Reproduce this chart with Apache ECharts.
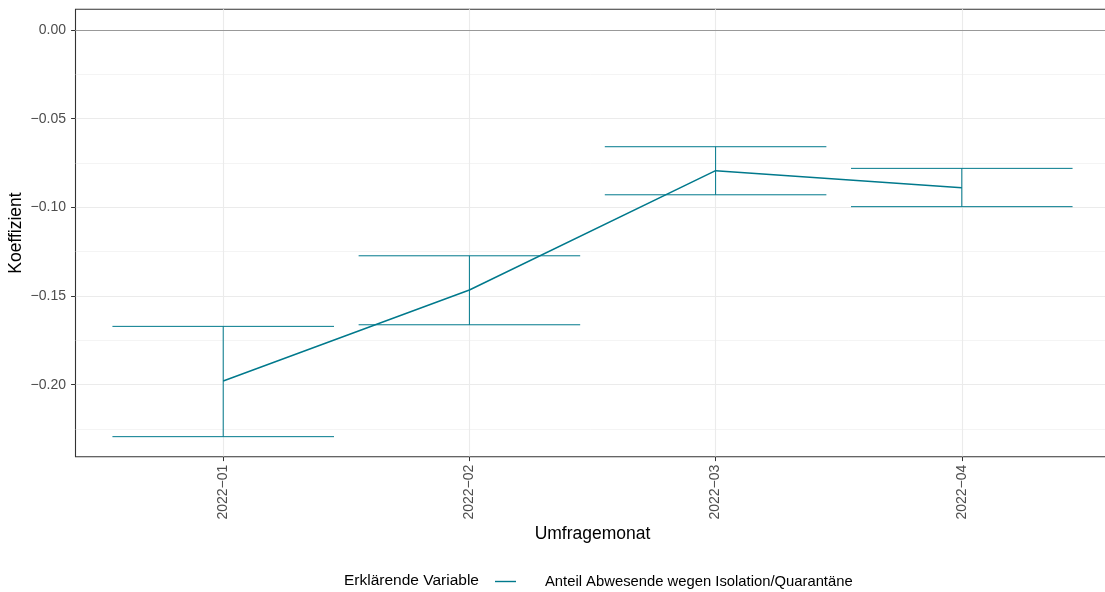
<!DOCTYPE html>
<html>
<head>
<meta charset="utf-8">
<script src="https://cdn.jsdelivr.net/npm/echarts@6/dist/echarts.min.js"></script>
<style>
  html, body { margin: 0; padding: 0; background: #ffffff; }
  #chart { width: 1105px; height: 592px; }
</style>
</head>
<body>
<div id="chart"></div>
<script>
// Survey months (x categories)
const categories = ['2022−01', '2022−02', '2022−03', '2022−04'];
// Estimated coefficient per month
const coefficient = [-0.1979, -0.1466, -0.0793, -0.0889];
// Lower / upper confidence bounds
const ciLower = [-0.2293, -0.1662, -0.0929, -0.0996];
const ciUpper = [-0.1671, -0.1273, -0.0658, -0.0780];
// Y axis tick values (major) and minor grid values
const yTicks = [-0.20, -0.15, -0.10, -0.05, 0.00];
const yMinor = [-0.225, -0.175, -0.125, -0.075, -0.025];

const seriesName = 'Anteil Abwesende wegen Isolation/Quarantäne';
const legendTitle = 'Erklärende Variable';
const FONT = '"Liberation Sans", Arial, Helvetica, sans-serif';
const TEAL = '#00798C';

const xPos = categories.map((_, i) => i + 1);
const lineData = xPos.map((x, i) => [x, coefficient[i]]);
const barData = xPos.map((x, i) => [x, ciLower[i], ciUpper[i]]);

const fmtY = v => {
  const s = Math.abs(v).toFixed(2);
  return v < -1e-9 ? '\u2212' + s : s;
};

const chart = echarts.init(document.getElementById('chart'), null, { renderer: 'canvas' });

chart.setOption({
  animation: false,
  backgroundColor: '#ffffff',
  textStyle: { fontFamily: FONT },
  title: {
    text: legendTitle,
    left: 344,
    top: 573,
    padding: 0,
    textStyle: { fontFamily: FONT, fontSize: 15.5, fontWeight: 'normal', color: '#000000' }
  },
  legend: {
    data: [{ name: seriesName, icon: 'rect' }],
    left: 495,
    top: 574,
    padding: 0,
    itemWidth: 21,
    itemHeight: 1.4,
    textStyle: { fontFamily: FONT, fontSize: 14.8, color: '#000000', padding: [0, 0, 0, 24] }
  },
  grid: {
    left: 75.5,
    right: -4.5,
    top: 9.3,
    bottom: 135.3,
    outerBoundsMode: 'none',
    show: true,
    borderColor: '#333333',
    borderWidth: 1.1,
    backgroundColor: 'transparent',
    containLabel: false
  },
  xAxis: {
    type: 'value',
    min: 0.4,
    max: 4.6,
    name: 'Umfragemonat',
    nameLocation: 'middle',
    nameGap: 68.5,
    nameMoveOverlap: false,
    nameTextStyle: { fontFamily: FONT, fontSize: 17.5, color: '#000000' },
    axisLine: { show: false, onZero: false },
    axisTick: {
      show: true,
      customValues: xPos,
      length: 4.4,
      lineStyle: { color: '#333333', width: 1 }
    },
    axisLabel: {
      customValues: xPos,
      rotate: 90,
      margin: 8,
      fontFamily: FONT,
      fontSize: 14,
      color: '#4D4D4D',
      formatter: v => categories[Math.round(v) - 1] || ''
    },
    splitLine: { show: true, lineStyle: { color: '#EBEBEB', width: 1.1 } }
  },
  yAxis: [
    {
      type: 'value',
      min: -0.2406,
      max: 0.0117,
      name: 'Koeffizient',
      nameLocation: 'middle',
      nameGap: 50,
      nameMoveOverlap: false,
      nameRotate: 90,
      nameTextStyle: { fontFamily: FONT, fontSize: 17.5, color: '#000000' },
      axisLine: { show: false, onZero: false },
      axisTick: {
        show: true,
        customValues: yTicks,
        length: 4.4,
        lineStyle: { color: '#333333', width: 1 }
      },
      axisLabel: {
        customValues: yTicks,
        margin: 9.5,
        fontFamily: FONT,
        fontSize: 14,
        color: '#4D4D4D',
        formatter: fmtY
      },
      splitLine: { show: true, lineStyle: { color: '#EBEBEB', width: 1.1 } }
    },
    {
      // minor horizontal grid lines
      type: 'value',
      min: -0.2406,
      max: 0.0117,
      position: 'left',
      axisLine: { show: false, onZero: false },
      axisTick: { show: false, customValues: yMinor },
      axisLabel: { show: false, customValues: yMinor },
      splitLine: { show: true, lineStyle: { color: '#EBEBEB', width: 0.55 } }
    }
  ],
  series: [
    {
      name: 'ci',
      type: 'custom',
      silent: true,
      z: 3,
      data: barData,
      renderItem: (params, api) => {
        const x = api.value(0);
        const lo = api.coord([x, api.value(1)]);
        const hi = api.coord([x, api.value(2)]);
        const half = api.size([0.45, 0])[0];
        const style = { stroke: TEAL, lineWidth: 1, fill: null };
        return {
          type: 'group',
          children: [
            { type: 'line', shape: { x1: lo[0] - half, y1: hi[1], x2: lo[0] + half, y2: hi[1] }, style },
            { type: 'line', shape: { x1: lo[0] - half, y1: lo[1], x2: lo[0] + half, y2: lo[1] }, style },
            { type: 'line', shape: { x1: lo[0], y1: hi[1], x2: lo[0], y2: lo[1] }, style }
          ]
        };
      }
    },
    {
      name: seriesName,
      type: 'line',
      z: 4,
      data: lineData,
      symbol: 'none',
      showSymbol: false,
      silent: true,
      lineStyle: { color: TEAL, width: 1.5 },
      itemStyle: { color: TEAL },
      markLine: {
        silent: true,
        symbol: 'none',
        label: { show: false },
        lineStyle: { color: '#999999', width: 1.1, type: 'solid' },
        data: [{ yAxis: 0 }]
      }
    }
  ]
});
</script>
</body>
</html>
